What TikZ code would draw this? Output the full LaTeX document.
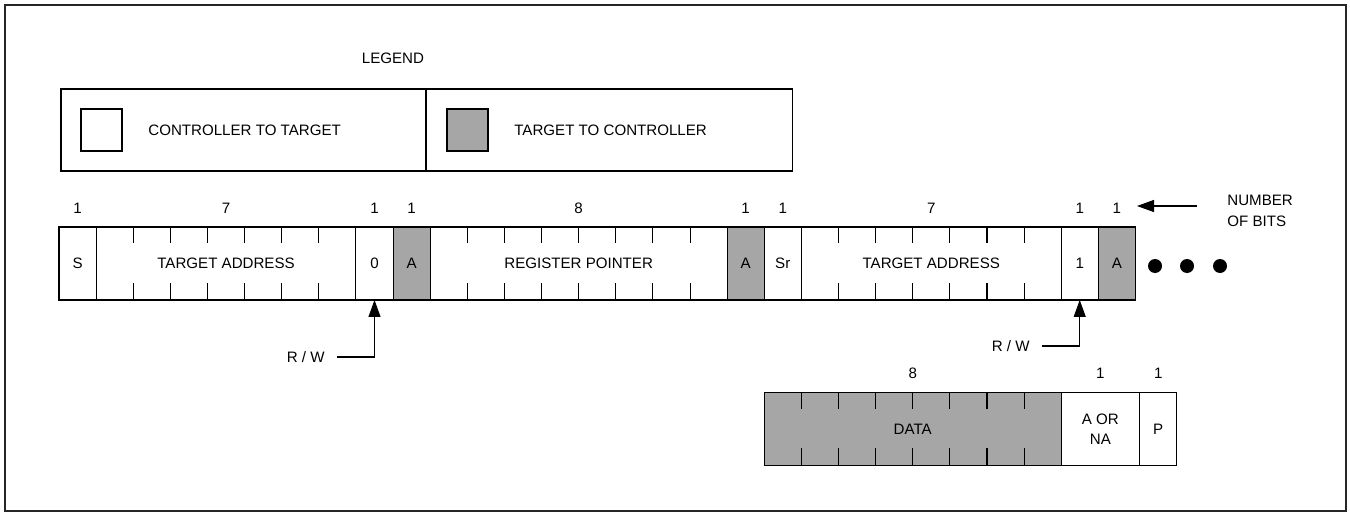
\documentclass[tikz,border=0pt]{standalone}
\usepackage{fontspec}
\setmainfont{Liberation Sans}
\usetikzlibrary{positioning, calc, arrows.meta}
\definecolor{ackgray}{RGB}{166,166,166}
\newcommand{\bitfont}{\fontsize{8.6}{11.6}\selectfont}

\begin{document}
\begin{tikzpicture}[x=0.02cm, y=-0.02cm,
  bit/.style={rectangle, draw, line width=0.6pt, outer sep=0pt, inner sep=0pt,
              minimum width=0.7425cm, minimum height=1.46cm, font=\bitfont, align=center},
  bits/.style={bit, minimum width=#1*0.7425cm},
  tgt/.style={fill=ackgray},
  key/.style={bit, minimum width=0.82cm, minimum height=0.84cm},
  num/.style={font=\bitfont, inner sep=1pt},
  txt/.style={font=\bitfont, inner sep=0pt, align=left},
  tick/.style={line width=0.6pt},
  arr/.style={-{Triangle[length=0.34cm, width=0.24cm]}, line width=0.6pt},
]
  \useasboundingbox (0,0) rectangle (1350,514);
  \draw[line width=0.8pt, black!85] (5,5) rectangle (1346,511);

  % legend
  \node[txt] (legendtitle) at (393,58) {LEGEND};
  \node[bit, minimum width=7.3cm, minimum height=1.64cm, anchor=north west] (lgleft) at (61,89) {};
  \node[bit, minimum width=7.34cm, minimum height=1.64cm, anchor=north west] (lgright) at (426,89) {};
  \node[key, anchor=west] (keyctl) at ($(lgleft.west)+(20,0)$) {};
  \node[txt, anchor=west] (keyctltext) at ($(keyctl.east)+(26,0)$) {CONTROLLER TO TARGET};
  \node[key, tgt, anchor=west] (keytgt) at ($(lgright.west)+(21,0)$) {};
  \node[txt, anchor=west] (keytgttext) at ($(keytgt.east)+(26,0)$) {TARGET TO CONTROLLER};

  % write pointer, then repeated start and read
  \node[bit, anchor=west] (start) at (59,263.5) {S};
  \node[bits=7, right=0pt of start] (addr1) {TARGET ADDRESS};
  \node[bit, right=0pt of addr1] (rw1) {0};
  \node[bit, tgt, right=0pt of rw1] (ack1) {A};
  \node[bits=8, right=0pt of ack1] (reg) {REGISTER POINTER};
  \node[bit, tgt, right=0pt of reg] (ack2) {A};
  \node[bit, right=0pt of ack2] (restart) {Sr};
  \node[bits=7, right=0pt of restart] (addr2) {TARGET ADDRESS};
  \node[bit, right=0pt of addr2] (rw2) {1};
  \node[bit, tgt, right=0pt of rw2] (ack3) {A};

  \foreach \x in {1155,1187,1220}
    \fill (\x,266) circle[radius=0.14cm];

  % data byte
  \node[bits=8, tgt, anchor=east] (data) at (rw2.west |- 0,429) {DATA};
  \node[bit, minimum width=1.57cm, right=0pt of data] (acknack) {A OR\\NA};
  \node[bit, right=0pt of acknack] (stop) {P};

  % bit ticks
  \foreach \f/\n in {addr1/6, reg/7, addr2/6, data/7}
    \foreach \i in {1,...,\n} {
      \draw[tick] ($(\f.north west)+(\i*37.125,0)$) -- ++(0,16);
      \draw[tick] ($(\f.south west)+(\i*37.125,0)$) -- ++(0,-17);
    }

  % number of bits
  \foreach \f/\n in {start/1, addr1/7, rw1/1, ack1/1, reg/8, ack2/1, restart/1, addr2/7, rw2/1, ack3/1}
    \node[num] (n-\f) at (\f.north |- 0,208) {\n};
  \foreach \f/\n in {data/8, acknack/1, stop/1}
    \node[num] (n-\f) at (\f.north |- 0,373) {\n};

  \node[txt, anchor=west] (nbits) at (1227,211) {NUMBER\\OF BITS};
  \coordinate (nbits-tail) at (1197,206);
  \coordinate (nbits-tip) at (1137,206);
  \draw[arr] (nbits-tail) -- (nbits-tip);

  % read / write bit
  \coordinate (rwtail1) at (337,357);
  \node[txt, anchor=east] (rwtext1) at (325,357) {R / W};
  \draw[arr] (rwtail1) -- (rwtail1 -| rw1.south) -- (rw1.south);
  \coordinate (rwtail2) at (1042,346);
  \node[txt, anchor=east] (rwtext2) at (1030,346) {R / W};
  \draw[arr] (rwtail2) -- (rwtail2 -| rw2.south) -- (rw2.south);
\end{tikzpicture}
\end{document}
